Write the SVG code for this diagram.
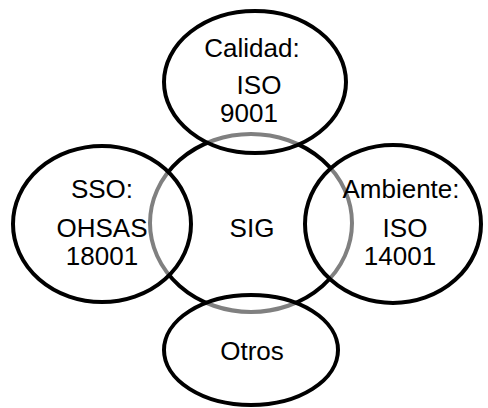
<svg xmlns="http://www.w3.org/2000/svg" width="488" height="408" viewBox="0 0 488 408">
  <style>
    .ring { fill: #fff; stroke: #000; stroke-width: 4; }
    .petal { fill: #fff; fill-opacity: 0.5; stroke: #000; stroke-width: 4; }
    text { font-family: "Liberation Sans", Arial, sans-serif; font-size: 26px; fill: #000; text-anchor: middle; }
  </style>
  <rect width="488" height="408" fill="#fff"/>

  <!-- central system -->
  <g id="sig">
    <ellipse class="ring" cx="251" cy="223" rx="101" ry="89"/>
    <text x="252" y="237">SIG</text>
  </g>

  <!-- surrounding standards, half-transparent so the central outline shows through grey -->
  <g id="calidad">
    <ellipse class="petal" cx="255" cy="82" rx="91" ry="71"/>
    <text x="252" y="57">Calidad:</text>
    <text x="259" y="94">ISO</text>
    <text x="249" y="122">9001</text>
  </g>
  <g id="sso">
    <ellipse class="petal" cx="102" cy="224" rx="89" ry="78"/>
    <text x="102" y="198">SSO:</text>
    <text x="102" y="237">OHSAS</text>
    <text x="102" y="265">18001</text>
  </g>
  <g id="ambiente">
    <ellipse class="petal" cx="393" cy="224" rx="88" ry="79"/>
    <text x="401" y="198">Ambiente:</text>
    <text x="405" y="237">ISO</text>
    <text x="400" y="265">14001</text>
  </g>
  <g id="otros">
    <ellipse class="petal" cx="251" cy="350" rx="87" ry="55"/>
    <text x="252" y="360">Otros</text>
  </g>

  <g id="connectors"/>
</svg>
